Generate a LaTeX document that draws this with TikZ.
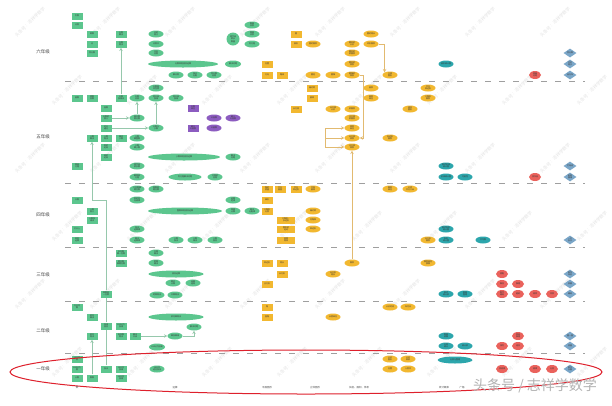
\documentclass[tikz,border=0pt]{standalone}
\usepackage{fontspec}
\usepackage{tikz}
\usetikzlibrary{arrows,shapes.geometric}
\newfontfamily\cjk{Noto Sans CJK SC}
\newcommand{\tinyzh}{\cjk\fontsize{2}{2.4}\selectfont}
\definecolor{mgreen}{RGB}{92,198,142}
\definecolor{myellow}{RGB}{242,184,48}
\definecolor{mteal}{RGB}{44,166,172}
\definecolor{mpurple}{RGB}{140,92,192}
\definecolor{mred}{RGB}{234,98,92}
\definecolor{mblue}{RGB}{122,166,200}
\definecolor{lgreen}{RGB}{150,200,172}
\definecolor{lyellow}{RGB}{226,186,112}
\definecolor{ringred}{RGB}{222,32,44}
\tikzset{
  kbase/.style={inner sep=0pt, font=\tinyzh, text=black!80, align=center},
  grect/.style={kbase, rectangle, fill=mgreen, minimum width=11pt, minimum height=7pt},
  gell/.style={kbase, ellipse, fill=mgreen, minimum width=15pt, minimum height=7pt},
  yrect/.style={kbase, rectangle, fill=myellow, minimum width=11pt, minimum height=7pt},
  yell/.style={kbase, ellipse, fill=myellow, minimum width=15pt, minimum height=7pt},
  tell/.style={kbase, ellipse, fill=mteal, minimum width=15pt, minimum height=7pt},
  prect/.style={kbase, rectangle, fill=mpurple, minimum width=11pt, minimum height=7pt},
  pell/.style={kbase, ellipse, fill=mpurple, minimum width=15pt, minimum height=7pt},
  rcirc/.style={kbase, ellipse, fill=mred, minimum width=12pt, minimum height=8pt},
  bdia/.style={kbase, diamond, aspect=1.5, fill=mblue, minimum width=13pt, minimum height=9pt},
  gline/.style={draw=lgreen, line width=0.5pt},
  garrow/.style={gline, ->, >=stealth},
  yline/.style={draw=lyellow, line width=0.5pt},
  yarrow/.style={yline, ->, >=stealth},
  gradesep/.style={draw=gray!75, line width=0.6pt, dash pattern=on 6pt off 8pt},
  gradelabel/.style={font=\cjk\fontsize{4.5}{4.5}\selectfont, text=black!75},
  catlabel/.style={font=\cjk\fontsize{2.5}{3}\selectfont, text=black!70},
  wmtext/.style={font=\cjk\fontsize{4.5}{4.5}\selectfont, text=gray!22, rotate=45}
}

\begin{document}
\begin{tikzpicture}[x=1pt, y=-1pt]
  \useasboundingbox (0,0) rectangle (612,405);
  \fill [white] (0,0) rectangle (612,405);

  \foreach \i in {0,...,7} {
    \foreach \j in {0,...,5} {
      \node [wmtext] (wm\i\j) at ({30+75*\i+37*mod(\j,2)},{22+68*\j}) {头条号：志祥学数学};
    }
  }

  \foreach \yy in {81,183,247,301,353}
    \draw [gradesep] (65,\yy) -- (585,\yy);

  \node [gradelabel] (lab6) at (43,52) {六年级};
  \node [gradelabel] (lab5) at (43,137) {五年级};
  \node [gradelabel] (lab4) at (43,215) {四年级};
  \node [gradelabel] (lab3) at (43,275) {三年级};
  \node [gradelabel] (lab2) at (43,331) {二年级};
  \node [gradelabel] (lab1) at (43,369) {一年级};

  \node [grect] (n6a) at (77,16) {负数};
  \node [grect] (n6b) at (77,25) {比例};
  \node [grect] (n6c) at (92,34) {倒数};
  \node [grect] (n6d) at (92,44) {比};
  \node [grect] (n6e) at (92,53) {百分数};
  \node [grect] (n6f) at (121,34) {分数\\乘法};
  \node [grect] (n6g) at (121,44) {分数\\除法};
  \node [gell] (n6h) at (156,34) {比的\\意义};
  \node [gell] (n6i) at (156,44) {比例尺};
  \node [gell] (n6j) at (156,53) {正反\\比例};
  \node [gell, minimum width=70pt] (n6k) at (183,64) {分数四则混合运算};
  \node [gell] (n6l) at (176,75) {解比例};
  \node [gell] (n6m) at (195,75) {按比\\分配};
  \node [gell] (n6n) at (214,75) {百分数\\应用};
  \node [gell, minimum width=13pt, minimum height=13pt] (n6o) at (233,39) {用字母\\表示\\数量};
  \node [gell] (n6p) at (252,25) {数量\\关系};
  \node [gell] (n6q) at (252,34) {等量\\关系};
  \node [gell] (n6r) at (252,44) {列方程};
  \node [gell, minimum width=16pt] (n6s) at (233,64) {解决问题};

  \node [yrect] (y6a) at (296,34) {圆};
  \node [yrect] (y6b) at (296,44) {扇形};
  \node [yrect] (y6c) at (267,64) {位置};
  \node [yrect] (y6d) at (267,75) {方向};
  \node [yrect] (y6e) at (282,75) {路线};
  \node [yell] (y6f) at (313,44) {圆的面积};
  \node [yell] (y6g) at (313,75) {圆柱};
  \node [yell] (y6h) at (333,75) {圆锥};
  \node [yell] (y6i) at (352,44) {圆柱的\\认识};
  \node [yell] (y6j) at (352,53) {圆柱的\\表面积};
  \node [yell] (y6k) at (352,64) {圆柱的\\体积};
  \node [yell] (y6l) at (352,75) {圆锥的\\体积};
  \node [yell] (y6m) at (371,34) {圆的周长};
  \node [yell] (y6n) at (371,44) {环形面积};
  \node [yell] (y6o) at (390,75) {立体\\图形};
  \node [tell] (t6a) at (446,64) {扇形统计图};
  \node [rcirc] (r6a) at (535,75) {鸽巢\\问题};
  \node [bdia] (d6a) at (570,53) {百分数};
  \node [bdia] (d6b) at (570,64) {节约\\用水};
  \node [bdia] (d6c) at (570,75) {自行车};

  \node [gell] (n5m) at (156,88) {分数基\\本性质};
  \node [grect] (n5a) at (77,98) {因数};
  \node [grect] (n5b) at (92,98) {质数\\合数};
  \node [grect] (n5c) at (121,98) {分数\\加减法};
  \node [gell] (n5n) at (137,98) {分数\\比较};
  \node [gell] (n5o) at (156,98) {同分母\\加减};
  \node [gell] (n5p) at (176,98) {异分母\\加减};
  \node [grect] (n5d) at (106,108) {倍数};
  \node [grect] (n5e) at (106,118) {分数的\\意义};
  \node [grect] (n5f) at (106,128) {约分\\通分};
  \node [gell] (n5q) at (137,118) {真分数\\假分数};
  \node [gell] (n5r) at (156,128) {分数与\\小数};
  \node [grect] (n5g) at (92,138) {小数\\乘法};
  \node [grect] (n5h) at (106,138) {小数\\除法};
  \node [grect] (n5i) at (121,138) {循环\\小数};
  \node [gell] (n5s) at (137,138) {小数\\乘整数};
  \node [grect] (n5j) at (106,147) {积的\\近似};
  \node [gell] (n5t) at (137,147) {小数\\乘小数};
  \node [grect] (n5k) at (106,157) {商的\\近似};
  \node [gell, minimum width=72pt] (n5u) at (184,157) {小数四则混合运算};
  \node [gell] (n5v) at (233,157) {解决\\问题};
  \node [grect] (n5l) at (77,166) {简易\\方程};
  \node [gell] (n5w) at (137,166) {用字母\\表示数};
  \node [gell] (n5x) at (137,177) {解简易\\方程};
  \node [gell, minimum width=33pt] (n5y) at (185,177) {列方程解决问题};
  \node [gell] (n5z) at (215,177) {方程的\\应用};
  \node [prect] (p5a) at (193,108) {分数\\单位};
  \node [pell] (p5c) at (214,118) {公倍数};
  \node [pell] (p5d) at (233,118) {最小\\公倍数};
  \node [prect] (p5b) at (193,128) {最大\\公因数};
  \node [pell] (p5e) at (214,128) {公因数};

  \node [yrect] (y5a) at (312,88) {轴对称};
  \node [yrect] (y5b) at (312,98) {旋转};
  \node [yrect] (y5c) at (296,109) {长方体};
  \node [yell] (y5d) at (333,109) {长方体\\认识};
  \node [yell] (y5e) at (352,109) {表面积};
  \node [yell] (y5f) at (352,118) {正方体\\表面积};
  \node [yell] (y5g) at (352,128) {体积\\单位};
  \node [yell] (y5h) at (352,138) {长方体\\体积};
  \node [yell] (y5i) at (352,147) {正方体\\体积};
  \node [yell] (y5j) at (371,88) {容积};
  \node [yell] (y5k) at (371,98) {容积\\单位};
  \node [yell] (y5l) at (390,138) {多边形\\面积};
  \node [yell] (y5m) at (410,109) {组合\\图形};
  \node [yell] (y5n) at (428,88) {平行\\四边形};
  \node [yell] (y5o) at (428,98) {三角形\\面积};
  \node [tell] (t5a) at (446,166) {复式折线\\统计图};
  \node [tell] (t5b) at (446,177) {折线统计图};
  \node [tell] (t5c) at (465,177) {可能性};
  \node [rcirc] (r5a) at (535,177) {找次品};
  \node [bdia] (d5a) at (570,166) {打电话};
  \node [bdia] (d5b) at (570,177) {粉刷\\围墙};

  \node [gell] (n4f) at (137,189) {三位数乘\\两位数};
  \node [gell] (n4g) at (156,189) {除数是\\两位数};
  \node [grect] (n4a) at (77,200) {大数};
  \node [gell] (n4h) at (137,200) {积的变\\化规律};
  \node [grect] (n4b) at (92,211) {小数\\意义};
  \node [gell, minimum width=74pt] (n4i) at (185,211) {整数四则混合运算};
  \node [gell] (n4j) at (233,200) {运算\\定律};
  \node [gell] (n4k) at (233,211) {简便\\计算};
  \node [gell] (n4l) at (252,211) {乘法\\分配律};
  \node [grect] (n4c) at (92,220) {小数加\\减法};
  \node [grect] (n4d) at (77,229) {亿以上};
  \node [gell] (n4m) at (137,229) {加法\\运算律};
  \node [grect] (n4e) at (77,240) {四则\\运算};
  \node [gell] (n4n) at (137,240) {乘法\\运算律};
  \node [gell] (n4o) at (176,240) {小数\\加法};
  \node [gell] (n4p) at (195,240) {小数\\减法};
  \node [gell] (n4q) at (215,240) {小数\\混合};

  \node [yrect] (y4a) at (267,189) {角的\\度量};
  \node [yrect] (y4b) at (280,189) {平行\\垂直};
  \node [yrect] (y4c) at (296,189) {平行\\四边形};
  \node [yell] (y4d) at (313,189) {平移\\旋转};
  \node [yrect] (y4e) at (267,200) {梯形};
  \node [yrect] (y4f) at (267,211) {三角形\\分类};
  \node [yell] (y4j) at (313,211) {轴对称};
  \node [yrect, minimum width=18pt] (y4g) at (286,220) {三角形、\\多边形};
  \node [yell] (y4k) at (313,220) {内角和};
  \node [yrect, minimum width=18pt] (y4h) at (286,229) {图形的\\运动};
  \node [yell] (y4l) at (313,229) {四边形};
  \node [yrect, minimum width=18pt] (y4i) at (286,240) {观察\\物体};
  \node [yell] (y4m) at (390,189) {面积\\单位};
  \node [yell] (y4n) at (410,189) {公顷\\平方千米};
  \node [yell] (y4o) at (428,240) {长方形\\面积};
  \node [tell] (t4a) at (446,229) {复式条形\\统计图};
  \node [tell] (t4b) at (446,240) {条形\\统计图};
  \node [tell] (t4c) at (483,240) {平均数};
  \node [bdia] (d4a) at (570,240) {一亿\\多大};

  \node [grect] (n3a) at (121,253) {多位数\\乘一位数};
  \node [gell] (n3d) at (156,253) {口算\\乘法};
  \node [grect] (n3b) at (121,263) {两位数\\乘两位数};
  \node [gell] (n3e) at (156,263) {笔算\\乘法};
  \node [gell, minimum width=55pt] (n3f) at (176,274) {混合运算};
  \node [gell] (n3g) at (173,283) {两步\\计算};
  \node [gell] (n3h) at (193,283) {连乘\\连除};
  \node [grect] (n3c) at (106,294) {除数是\\一位数};
  \node [gell] (n3i) at (157,295) {笔算除法};
  \node [gell] (n3j) at (175,295) {口算除法};

  \node [yrect] (y3a) at (267,263) {四边形};
  \node [yrect] (y3b) at (282,263) {周长};
  \node [yrect] (y3c) at (282,274) {长方形};
  \node [yrect] (y3d) at (267,284) {正方形};
  \node [yell] (y3e) at (352,263) {面积};
  \node [yell] (y3f) at (333,274) {长方形\\周长};
  \node [yell] (y3g) at (428,263) {面积单位\\换算};
  \node [tell] (t3a) at (446,294) {复式\\统计表};
  \node [tell] (t3b) at (465,294) {数据\\整理};
  \node [rcirc] (r3a) at (502,274) {搭配};
  \node [rcirc] (r3b) at (502,284) {集合};
  \node [rcirc] (r3c) at (518,284) {推理};
  \node [rcirc] (r3d) at (502,294) {数字\\编码};
  \node [rcirc] (r3e) at (518,294) {植树};
  \node [rcirc] (r3f) at (535,294) {烙饼};
  \node [rcirc] (r3g) at (552,294) {沏茶};
  \node [bdia] (d3a) at (570,274) {制作\\年历};
  \node [bdia] (d3b) at (570,284) {校园};
  \node [bdia] (d3c) at (570,294) {编码};

  \node [grect] (n2a) at (77,307) {万以内\\数};
  \node [grect] (n2b) at (92,317) {表内\\乘法};
  \node [gell, minimum width=55pt] (n2h) at (176,317) {表内乘除法};
  \node [grect] (n2c) at (106,326) {加减\\混合};
  \node [grect] (n2d) at (121,326) {100以内\\加减};
  \node [gell] (n2i) at (194,327) {解决问题};
  \node [grect] (n2e) at (92,336) {表内\\除法};
  \node [grect] (n2f) at (121,336) {有余数\\除法};
  \node [grect] (n2g) at (135,336) {乘法\\口诀};
  \node [gell] (n2j) at (175,336) {乘加乘减};
  \node [gell] (n2k) at (157,347) {100以内加减};

  \node [yrect] (y2a) at (267,307) {角};
  \node [yrect] (y2b) at (267,317) {直角};
  \node [yell] (y2c) at (333,317) {长度单位};
  \node [yell] (y2d) at (390,307) {认识时间};
  \node [yell] (y2e) at (408,307) {年月日};
  \node [tell] (t2a) at (446,336) {数据\\收集};
  \node [tell] (t2b) at (446,346) {分类\\统计};
  \node [tell] (t2c) at (465,346) {统计表};
  \node [rcirc] (r2a) at (518,336) {简单\\推理};
  \node [rcirc] (r2b) at (502,346) {排列};
  \node [rcirc] (r2c) at (518,346) {组合};
  \node [bdia] (d2a) at (570,336) {量一量};
  \node [bdia] (d2b) at (570,346) {测量};

  \node [grect] (n1a) at (77,359) {20以内\\数};
  \node [grect] (n1b) at (77,369) {100以内\\数};
  \node [grect] (n1c) at (77,378) {认数};
  \node [grect] (n1d) at (92,378) {数数};
  \node [grect] (n1e) at (106,369) {加法};
  \node [grect] (n1f) at (121,369) {10以内\\加减};
  \node [grect] (n1g) at (121,378) {20以内\\加减};
  \node [gell] (n1h) at (157,369) {20以内\\进位加法};
  \node [yell] (y1a) at (390,359) {认识\\图形};
  \node [yell] (y1b) at (390,369) {位置};
  \node [yell] (y1c) at (408,359) {认识\\钟表};
  \node [yell] (y1d) at (408,369) {人民币};
  \node [tell, minimum width=35pt] (t1a) at (455,360) {分类与整理};
  \node [rcirc] (r1a) at (502,369) {找规律};
  \node [rcirc] (r1b) at (535,369) {规律};
  \node [rcirc] (r1c) at (552,369) {分类};
  \node [bdia] (d1a) at (570,369) {数学\\乐园};

  \draw [garrow] (n5c) -- (n6g);
  \draw [garrow] (n5e) -- (n5q);
  \draw [garrow] (n5f) -- (n5r);
  \draw [garrow] (n5q) -- (n5n);
  \draw [garrow] (n5r) -- (n5o);
  \coordinate (kink) at (106,200);
  \draw [gline] (n1e) -- (n2c);
  \draw [gline] (n2c) -- (n3c);
  \draw [garrow] (n3c) -- (kink) -| (n5g);
  \draw [garrow] (n1d) -- (n2e);
  \draw [garrow] (n2g) -- (n2j);
  \draw [garrow] (n2j) -| (n2i);

  \coordinate (br) at (325,128);
  \draw [yarrow] (y6n.east) -| (y6o.north west);
  \draw [yarrow] (y6l.east) -- ++(4,0) |- (y5h.east);
  \draw [yarrow] (br) -- (y5g.west);
  \draw [yarrow] (br) |- (y5h.west);
  \draw [yarrow] (br) |- (y5i.west);
  \draw [yarrow] (y3e) -- (y5i);

  \draw [ringred, line width=1pt] (306,372) ellipse [x radius=296pt, y radius=22pt];

  \node [catlabel] (cat1) at (77,388) {数};
  \node [catlabel] (cat2) at (175,388) {运算};
  \node [catlabel] (cat3) at (267,388) {平面图形};
  \node [catlabel] (cat4) at (315,388) {立体图形};
  \node [catlabel] (cat5) at (359,388) {长度、面积、体积};
  \node [catlabel] (cat6) at (444,388) {统计概率};
  \node [catlabel] (cat7) at (462,388) {广角};

  \node [font=\cjk\fontsize{14}{14}\selectfont, text=gray!60] (brand) at (535,386) {头条号 / 志祥学数学};
\end{tikzpicture}
\end{document}
